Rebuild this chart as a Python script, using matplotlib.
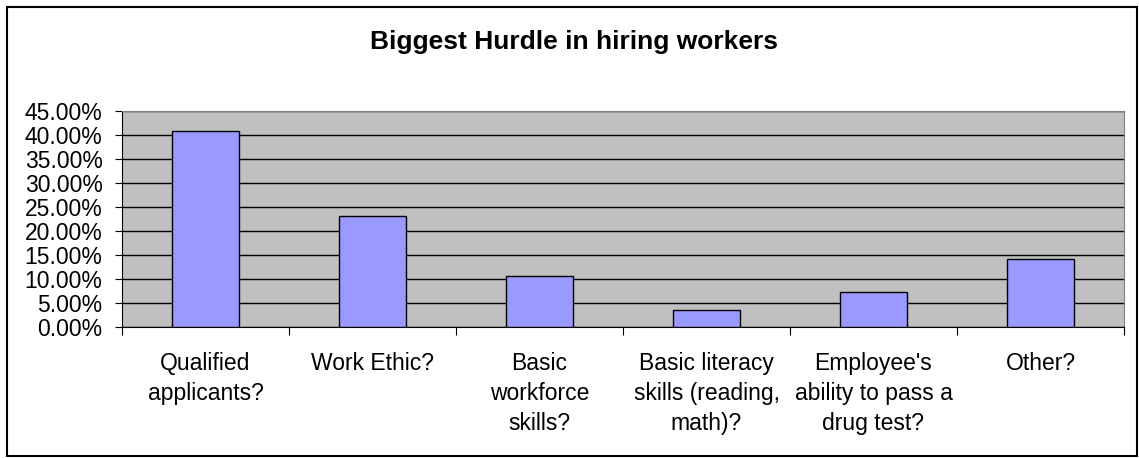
import numpy as np
import matplotlib.pyplot as plt
from matplotlib.ticker import PercentFormatter, MultipleLocator, FixedLocator
from matplotlib.patches import Rectangle

plt.rcParams['font.family'] = ['Liberation Sans', 'DejaVu Sans']

# Data
categories = ['Qualified\napplicants?', 'Work Ethic?', 'Basic\nworkforce\nskills?',
              'Basic literacy\nskills (reading,\nmath)?', "Employee's\nability to pass a\ndrug test?",
              'Other?']
values = [40.9, 23.2, 10.6, 3.6, 7.2, 14.2]

W, H = 1139, 458
fig = plt.figure(figsize=(W / 100, H / 100), dpi=100)
ax = fig.add_axes([122 / W, 1 - 327 / H, (1124 - 122) / W, (327 - 111) / H])

# outer chart border
fig.patches.append(Rectangle((7 / W, 2 / H), 1130 / W, 449 / H,
                             transform=fig.transFigure, fill=False, edgecolor='black', linewidth=1.5))

x = np.arange(len(categories))
ax.set_facecolor('#C0C0C0')
ax.bar(x, values, width=0.4, color='#9999FF', edgecolor='black', linewidth=1, zorder=3)

ax.set_xlim(-0.5, len(categories) - 0.5)
ax.set_ylim(0, 45)
ax.yaxis.set_major_locator(MultipleLocator(5))
ax.yaxis.set_major_formatter(PercentFormatter(decimals=2))
ax.grid(axis='y', color='black', linewidth=1, zorder=1)

# category labels between boundary ticks
ax.xaxis.set_major_locator(FixedLocator(np.arange(-0.5, len(categories), 1)))
ax.set_xticklabels([])
ax.xaxis.set_minor_locator(FixedLocator(x))
ax.set_xticklabels(categories, minor=True, fontsize=16.5, linespacing=1.4, va='top')
ax.tick_params(axis='x', which='minor', length=0, pad=18)
ax.tick_params(axis='x', which='major', length=5.5, direction='out', color='black')
ax.tick_params(axis='y', length=5, direction='out', labelsize=16.5, pad=9)

for side in ['top', 'right']:
    ax.spines[side].set_color('#808080')
ax.spines['left'].set_color('black')
ax.spines['bottom'].set_color('black')

fig.text(574 / W, 1 - 49 / H, 'Biggest Hurdle in hiring workers', ha='center', va='baseline',
         fontsize=19, fontweight='bold')

fig.savefig('out.png', dpi=100)
